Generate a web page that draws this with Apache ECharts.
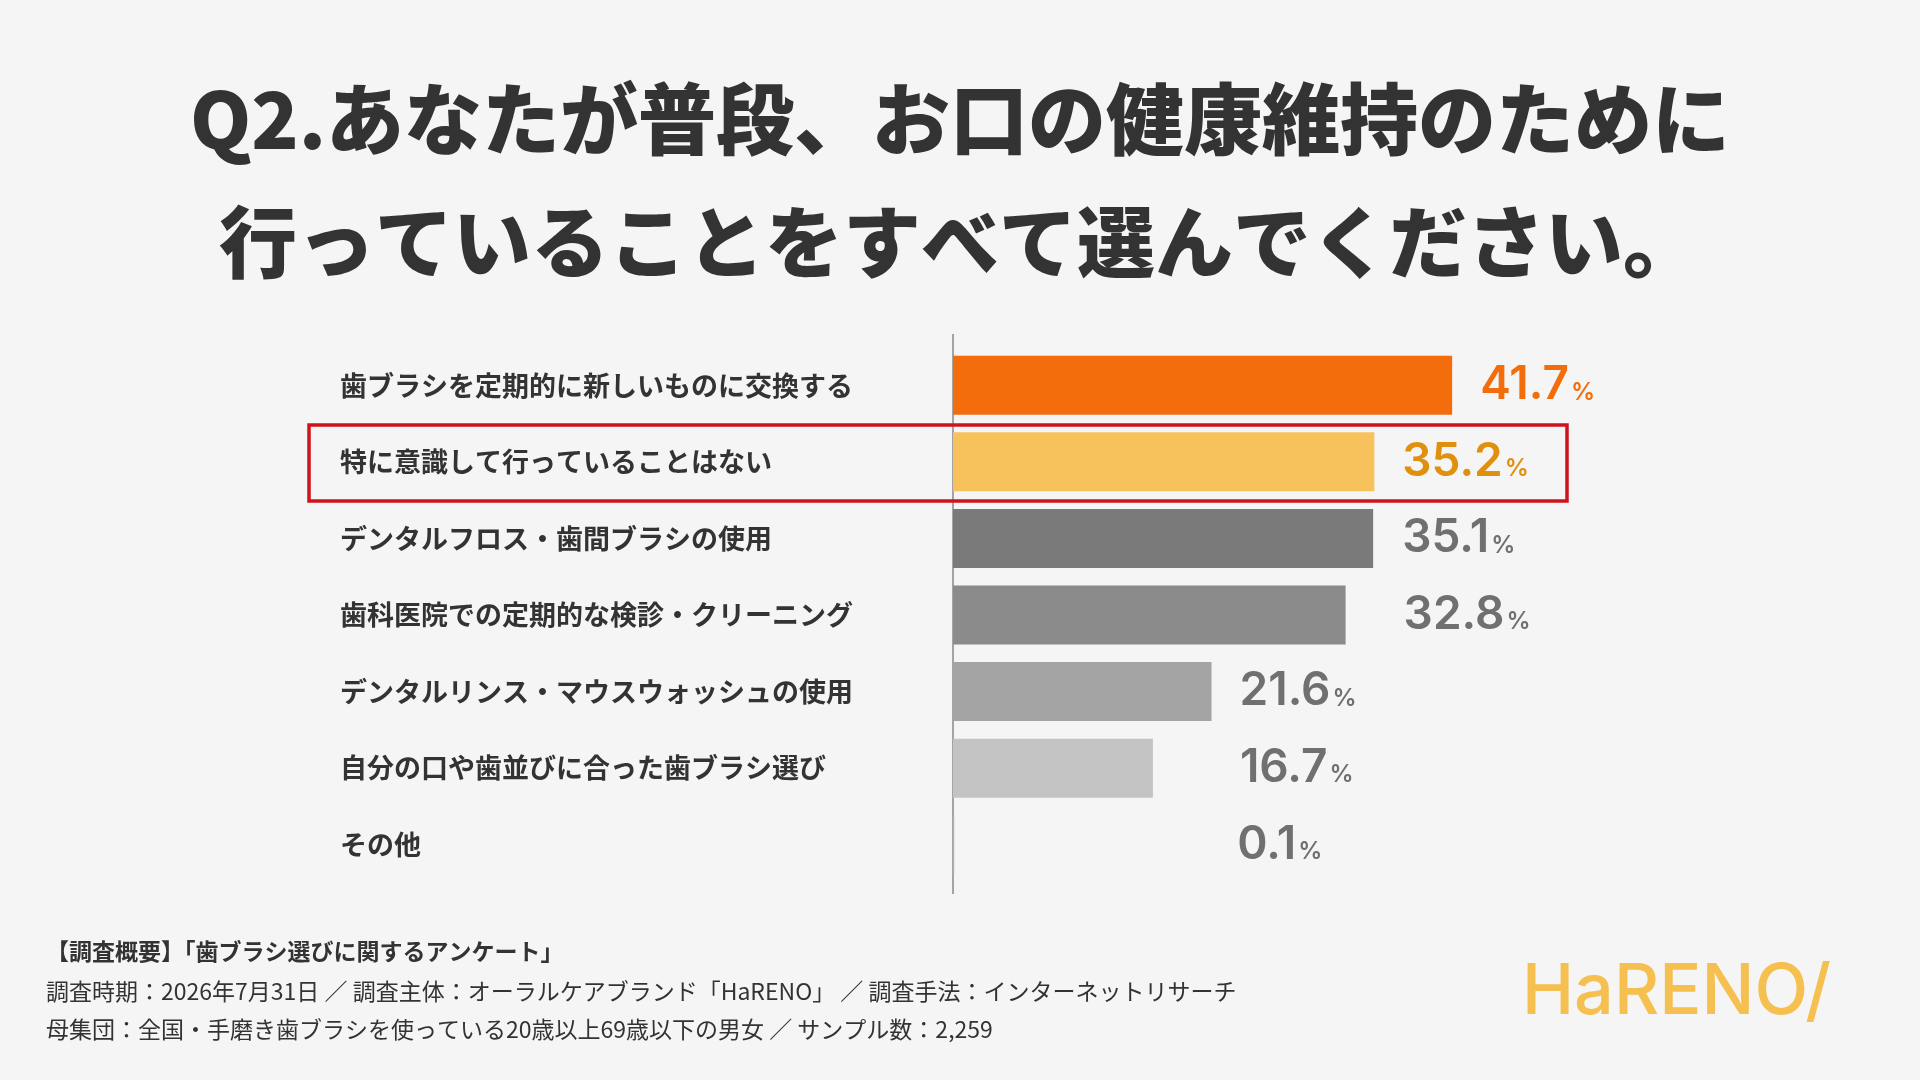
<!DOCTYPE html><html><head><meta charset="utf-8"><script src="https://cdn.jsdelivr.net/npm/echarts@6/dist/echarts.min.js"></script>
<style>html,body{margin:0;background:#f5f5f5}#c{width:1920px;height:1080px}</style></head><body><div id="c"></div><script>
const categories=["歯ブラシを定期的に新しいものに交換する","特に意識して行っていることはない","デンタルフロス・歯間ブラシの使用","歯科医院での定期的な検診・クリーニング","デンタルリンス・マウスウォッシュの使用","自分の口や歯並びに合った歯ブラシ選び","その他"];
const values=[41.7,35.2,35.1,32.8,21.6,16.7,0.1];
const barColors=["#f36d0c","#f7c25c","#7a7a7a","#8b8b8b","#a4a4a4","#c3c3c3","#b0b0b0"];
const labelColors=["#f36d0c","#e0900f","#707070","#707070","#707070","#707070","#707070"];
const labelDist=[28,28,29,58,28,87,283];
const F='"Noto Sans CJK JP",sans-serif';
const chart=echarts.init(document.getElementById('c'));
chart.setOption({
backgroundColor:'#f5f5f5',
title:[{text:'Q2.あなたが普段、お口の健康維持のために',left:'center',top:75,textStyle:{fontFamily:F,fontSize:78,fontWeight:900,color:'#333'}},
{text:'行っていることをすべて選んでください。',left:'center',top:198,textStyle:{fontFamily:F,fontSize:78,fontWeight:900,color:'#333'}}],
grid:{left:953,width:598.5,top:347,height:536},
xAxis:{type:'value',min:0,max:50,show:false},
yAxis:{type:'category',data:categories,inverse:true,axisLine:{show:false},axisTick:{show:false},
axisLabel:{align:'left',margin:613,fontFamily:F,fontSize:27,fontWeight:700,color:'#333'}},
series:[{type:'bar',barWidth:59,animation:false,
data:values.map((v,i)=>({value:v,itemStyle:{color:barColors[i]},
label:{show:true,position:'right',distance:labelDist[i],
formatter:'{n|'+v.toFixed(1)+'}{p|%}',
rich:{n:{fontFamily:'Inter',fontWeight:600,fontSize:46,color:labelColors[i]},p:{fontFamily:'Inter',fontWeight:600,fontSize:24,color:labelColors[i],padding:[14,0,0,2]}}}}))}],
graphic:[
{type:'line',shape:{x1:953,y1:334,x2:953,y2:894},style:{stroke:'#888',lineWidth:1.5}},
{type:'rect',shape:{x:309,y:425,width:1258,height:76},style:{fill:'none',stroke:'#d0121b',lineWidth:3.5}},
{type:'text',x:46,y:940,style:{text:'【調査概要】「歯ブラシ選びに関するアンケート」',font:'700 23px '+F,fill:'#333'}},
{type:'text',x:46,y:980,style:{text:'調査時期：2026年7月31日 ／ 調査主体：オーラルケアブランド「HaRENO」 ／ 調査手法：インターネットリサーチ',font:'400 23px '+F,fill:'#333'}},
{type:'text',x:46,y:1018,style:{text:'母集団：全国・手磨き歯ブラシを使っている20歳以上69歳以下の男女 ／ サンプル数：2,259',font:'400 23px '+F,fill:'#333'}},
{type:'text',x:1522,y:958,style:{text:'HaRENO/',font:'500 70px Inter',fill:'#f5c04f'}}
]});
</script></body></html>
